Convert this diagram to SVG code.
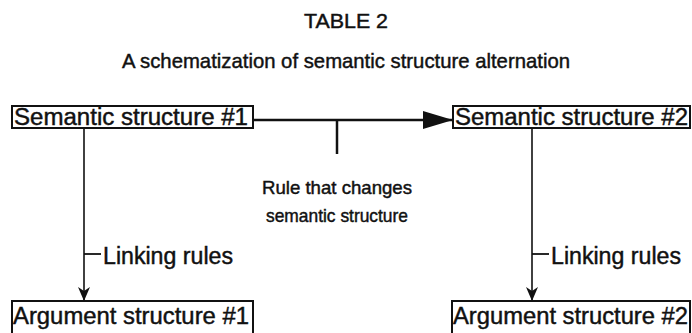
<svg xmlns="http://www.w3.org/2000/svg" width="692" height="333" viewBox="0 0 692 333">
  <style>
    .t { font-family: "Liberation Sans", Arial, Helvetica, sans-serif; fill: #111; stroke: #111; stroke-width: 0.45; }
    .box { fill: #fff; stroke: #111; stroke-width: 2; }
    .ln { stroke: #111; fill: none; }
  </style>
  <defs>
    <marker id="tri" viewBox="0 0 30 18" refX="30" refY="9" markerWidth="30" markerHeight="18" markerUnits="userSpaceOnUse" orient="auto">
      <path d="M0,0 L30,9 L0,18 Z" fill="#111"/>
    </marker>
    <marker id="vee" viewBox="0 0 14 14" refX="14" refY="7" markerWidth="14" markerHeight="14" markerUnits="userSpaceOnUse" orient="auto">
      <path d="M0,1 L14,7 L0,13 L4,7 Z" fill="#111"/>
    </marker>
  </defs>
  <rect width="692" height="333" fill="#fff"/>

  <!-- heading -->
  <text class="t" x="346" y="28" font-size="21" text-anchor="middle" textLength="84" lengthAdjust="spacingAndGlyphs">TABLE 2</text>
  <text class="t" x="346" y="68" font-size="21" text-anchor="middle" textLength="448" lengthAdjust="spacingAndGlyphs">A schematization of semantic structure alternation</text>

  <!-- connectors -->
  <g id="connectors">
    <line class="ln" x1="253" y1="120" x2="453" y2="120" stroke-width="2.5" marker-end="url(#tri)"/>
    <line class="ln" x1="337" y1="120" x2="337" y2="154" stroke-width="2.5"/>
    <line class="ln" x1="84" y1="128" x2="84" y2="301" stroke-width="1.6" marker-end="url(#vee)"/>
    <line class="ln" x1="84" y1="254" x2="101" y2="254" stroke-width="1.8"/>
    <line class="ln" x1="532" y1="128" x2="532" y2="301" stroke-width="1.6" marker-end="url(#vee)"/>
    <line class="ln" x1="532" y1="254" x2="549" y2="254" stroke-width="1.8"/>
  </g>

  <!-- edge labels -->
  <g id="labels">
    <text class="t" x="337" y="194" font-size="18.5" text-anchor="middle" textLength="150" lengthAdjust="spacingAndGlyphs">Rule that changes</text>
    <text class="t" x="337" y="222" font-size="18.5" text-anchor="middle" textLength="142" lengthAdjust="spacingAndGlyphs">semantic structure</text>
    <text class="t" x="103" y="264" font-size="23" textLength="130" lengthAdjust="spacingAndGlyphs">Linking rules</text>
    <text class="t" x="551" y="264" font-size="23" textLength="130" lengthAdjust="spacingAndGlyphs">Linking rules</text>
  </g>

  <g id="sem1">
    <rect class="box" x="12" y="106" width="241" height="22"/>
    <text class="t" x="14" y="125" font-size="23.5" textLength="234" lengthAdjust="spacingAndGlyphs">Semantic structure #1</text>
  </g>
  <g id="sem2">
    <rect class="box" x="453" y="106" width="237" height="22"/>
    <text class="t" x="455" y="125" font-size="23.5" textLength="233" lengthAdjust="spacingAndGlyphs">Semantic structure #2</text>
  </g>
  <g id="arg1">
    <rect class="box" x="12" y="301" width="241" height="40"/>
    <text class="t" x="13" y="324" font-size="23.5" textLength="236" lengthAdjust="spacingAndGlyphs">Argument structure #1</text>
  </g>
  <g id="arg2">
    <rect class="box" x="452" y="301" width="238" height="40"/>
    <text class="t" x="453" y="324" font-size="23.5" textLength="235" lengthAdjust="spacingAndGlyphs">Argument structure #2</text>
  </g>
</svg>
